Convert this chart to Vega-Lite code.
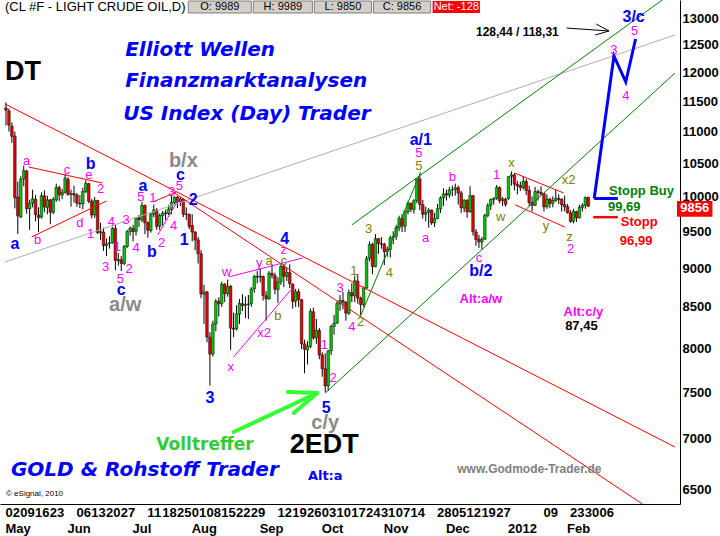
{
"$schema":"https://vega.github.io/schema/vega-lite/v6.json",
"width":680,"height":504,
"autosize":{"type":"none"},
"padding":{"left":0,"top":0,"right":40,"bottom":32},
"background":"white",
"config":{"view":{"stroke":null},
"axisY":{"labelFont":"Liberation Sans","labelFontWeight":"bold","labelFontSize":13,"labelColor":"black","labelPadding":2,"labelAlign":"left","labelBaseline":"middle","labelOverlap":false,"labelFlush":false,"labelBound":false,"ticks":false,"grid":false,"domain":true,"domainColor":"black","domainWidth":1}},
"datasets":{
"candles":[
{"i":0,"o":11390,"h":11483,"l":11100,"c":11352},{"i":1,"o":11340,"h":11380,"l":11000,"c":11105},{"i":2,"o":11090,"h":11150,"l":10820,"c":10924},{"i":3,"o":10930,"h":11000,"l":9825,"c":9980},{"i":4,"o":9990,"h":10220,"l":9463,"c":9718},{"i":5,"o":9700,"h":10300,"l":9690,"c":10255},{"i":6,"o":10260,"h":10460,"l":10150,"c":10388},{"i":7,"o":10380,"h":10400,"l":9750,"c":9821},{"i":8,"o":9820,"h":9950,"l":9520,"c":9897},{"i":9,"o":9900,"h":10100,"l":9840,"c":9965},
{"i":10,"o":9960,"h":10020,"l":9640,"c":9737},{"i":11,"o":9730,"h":9840,"l":9490,"c":9691},{"i":12,"o":9700,"h":10060,"l":9680,"c":10010},{"i":13,"o":10010,"h":10090,"l":9770,"c":9844},{"i":14,"o":9840,"h":10010,"l":9740,"c":9949},{"i":15,"o":9950,"h":9960,"l":9600,"c":9770},{"i":16,"o":9770,"h":9990,"l":9740,"c":9959},{"i":17,"o":9950,"h":10190,"l":9920,"c":10132},{"i":18,"o":10130,"h":10160,"l":9930,"c":10023},{"i":19,"o":10020,"h":10110,"l":9960,"c":10059},
{"i":20,"o":10060,"h":10340,"l":10040,"c":10270},{"i":21,"o":10250,"h":10290,"l":10010,"c":10029},{"i":22,"o":10030,"h":10100,"l":9850,"c":10040},{"i":23,"o":10040,"h":10160,"l":9910,"c":10022},{"i":24,"o":10020,"h":10050,"l":9850,"c":9901},{"i":25,"o":9900,"h":10020,"l":9830,"c":9894},{"i":26,"o":9890,"h":10130,"l":9810,"c":10074},{"i":27,"o":10070,"h":10240,"l":10050,"c":10193},{"i":28,"o":10190,"h":10200,"l":9900,"c":9929},{"i":29,"o":9930,"h":9960,"l":9680,"c":9730},
{"i":30,"o":9730,"h":9990,"l":9690,"c":9937},{"i":31,"o":9940,"h":9950,"l":9460,"c":9481},{"i":32,"o":9480,"h":9620,"l":9380,"c":9495},{"i":33,"o":9490,"h":9550,"l":9230,"c":9301},{"i":34,"o":9300,"h":9400,"l":9160,"c":9326},{"i":35,"o":9330,"h":9430,"l":9260,"c":9340},{"i":36,"o":9340,"h":9560,"l":9330,"c":9541},{"i":37,"o":9540,"h":9590,"l":8970,"c":9102},{"i":38,"o":9100,"h":9200,"l":9030,"c":9116},{"i":39,"o":9110,"h":9160,"l":8960,"c":9061},
{"i":40,"o":9060,"h":9310,"l":9040,"c":9289},{"i":41,"o":9290,"h":9520,"l":9270,"c":9496},{"i":42,"o":9500,"h":9570,"l":9440,"c":9542},{"i":43,"o":9540,"h":9590,"l":9360,"c":9494},{"i":44,"o":9500,"h":9700,"l":9440,"c":9689},{"i":45,"o":9690,"h":9730,"l":9560,"c":9665},{"i":46,"o":9660,"h":9920,"l":9630,"c":9867},{"i":47,"o":9870,"h":9880,"l":9460,"c":9620},{"i":48,"o":9620,"h":9640,"l":9410,"c":9515},{"i":49,"o":9510,"h":9770,"l":9480,"c":9743},
{"i":50,"o":9740,"h":9880,"l":9700,"c":9805},{"i":51,"o":9800,"h":9830,"l":9520,"c":9569},{"i":52,"o":9570,"h":9750,"l":9520,"c":9724},{"i":53,"o":9720,"h":9790,"l":9580,"c":9759},{"i":54,"o":9760,"h":9810,"l":9660,"c":9750},{"i":55,"o":9750,"h":9870,"l":9730,"c":9814},{"i":56,"o":9810,"h":10020,"l":9740,"c":9913},{"i":57,"o":9910,"h":10000,"l":9880,"c":9987},{"i":58,"o":9990,"h":10010,"l":9830,"c":9920},{"i":59,"o":9920,"h":9990,"l":9860,"c":9959},
{"i":60,"o":9960,"h":9970,"l":9700,"c":9740},{"i":61,"o":9740,"h":9840,"l":9660,"c":9744},{"i":62,"o":9740,"h":9750,"l":9530,"c":9570},{"i":63,"o":9580,"h":9740,"l":9360,"c":9489},{"i":64,"o":9490,"h":9500,"l":9240,"c":9379},{"i":65,"o":9380,"h":9420,"l":9060,"c":9193},{"i":66,"o":9190,"h":9240,"l":8610,"c":8663},{"i":67,"o":8660,"h":8780,"l":8290,"c":8688},{"i":68,"o":8690,"h":8700,"l":8070,"c":8131},{"i":69,"o":8130,"h":8190,"l":7571,"c":7930},
{"i":70,"o":7930,"h":8330,"l":7900,"c":8289},{"i":71,"o":8290,"h":8600,"l":8200,"c":8572},{"i":72,"o":8570,"h":8620,"l":8380,"c":8538},{"i":73,"o":8540,"h":8820,"l":8500,"c":8788},{"i":74,"o":8790,"h":8800,"l":8560,"c":8665},{"i":75,"o":8670,"h":8850,"l":8630,"c":8758},{"i":76,"o":8760,"h":8780,"l":7980,"c":8238},{"i":77,"o":8240,"h":8430,"l":8130,"c":8226},{"i":78,"o":8230,"h":8520,"l":8210,"c":8412},{"i":79,"o":8410,"h":8600,"l":8290,"c":8544},
{"i":80,"o":8540,"h":8660,"l":8450,"c":8516},{"i":81,"o":8520,"h":8630,"l":8360,"c":8530},{"i":82,"o":8530,"h":8650,"l":8350,"c":8537},{"i":83,"o":8540,"h":8750,"l":8500,"c":8727},{"i":84,"o":8730,"h":8910,"l":8680,"c":8890},{"i":85,"o":8890,"h":8960,"l":8800,"c":8881},{"i":86,"o":8880,"h":8990,"l":8810,"c":8893},{"i":87,"o":8890,"h":8900,"l":8580,"c":8645},{"i":88,"o":8640,"h":8700,"l":8330,"c":8602},{"i":89,"o":8600,"h":8960,"l":8590,"c":8934},
{"i":90,"o":8930,"h":9050,"l":8860,"c":8905},{"i":91,"o":8900,"h":8940,"l":8660,"c":8724},{"i":92,"o":8720,"h":8880,"l":8550,"c":8819},{"i":93,"o":8820,"h":9050,"l":8780,"c":9021},{"i":94,"o":9020,"h":9050,"l":8750,"c":8891},{"i":95,"o":8890,"h":9000,"l":8830,"c":8940},{"i":96,"o":8940,"h":9050,"l":8740,"c":8796},{"i":97,"o":8790,"h":8800,"l":8480,"c":8570},{"i":98,"o":8570,"h":8730,"l":8500,"c":8692},{"i":99,"o":8690,"h":8730,"l":8500,"c":8592},
{"i":100,"o":8590,"h":8600,"l":7990,"c":8051},{"i":101,"o":8050,"h":8100,"l":7710,"c":7985},{"i":102,"o":7980,"h":8080,"l":7810,"c":8024},{"i":103,"o":8020,"h":8480,"l":8000,"c":8445},{"i":104,"o":8440,"h":8490,"l":8100,"c":8121},{"i":105,"o":8120,"h":8350,"l":8050,"c":8214},{"i":106,"o":8210,"h":8240,"l":7870,"c":7920},{"i":107,"o":7920,"h":7950,"l":7670,"c":7761},{"i":108,"o":7760,"h":7940,"l":7495,"c":7567},{"i":109,"o":7570,"h":7980,"l":7510,"c":7968},
{"i":110,"o":7970,"h":8280,"l":7920,"c":8259},{"i":111,"o":8260,"h":8400,"l":8160,"c":8298},{"i":112,"o":8300,"h":8570,"l":8290,"c":8541},{"i":113,"o":8540,"h":8650,"l":8450,"c":8581},{"i":114,"o":8580,"h":8690,"l":8470,"c":8557},{"i":115,"o":8560,"h":8570,"l":8330,"c":8423},{"i":116,"o":8420,"h":8720,"l":8400,"c":8680},{"i":117,"o":8680,"h":8800,"l":8560,"c":8638},{"i":118,"o":8640,"h":8900,"l":8560,"c":8834},{"i":119,"o":8830,"h":8920,"l":8540,"c":8611},
{"i":120,"o":8610,"h":8630,"l":8400,"c":8530},{"i":121,"o":8530,"h":8760,"l":8500,"c":8740},{"i":122,"o":8740,"h":9160,"l":8730,"c":9127},{"i":123,"o":9130,"h":9360,"l":9090,"c":9317},{"i":124,"o":9320,"h":9340,"l":8920,"c":9020},{"i":125,"o":9020,"h":9460,"l":9010,"c":9396},{"i":126,"o":9400,"h":9400,"l":9190,"c":9332},{"i":127,"o":9330,"h":9420,"l":9260,"c":9319},{"i":128,"o":9320,"h":9340,"l":9040,"c":9219},{"i":129,"o":9220,"h":9290,"l":9150,"c":9251},
{"i":130,"o":9250,"h":9440,"l":9140,"c":9407},{"i":131,"o":9410,"h":9500,"l":9320,"c":9426},{"i":132,"o":9430,"h":9590,"l":9380,"c":9552},{"i":133,"o":9550,"h":9720,"l":9500,"c":9680},{"i":134,"o":9680,"h":9740,"l":9490,"c":9574},{"i":135,"o":9570,"h":9800,"l":9490,"c":9778},{"i":136,"o":9780,"h":9930,"l":9740,"c":9899},{"i":137,"o":9900,"h":9910,"l":9770,"c":9814},{"i":138,"o":9810,"h":9960,"l":9750,"c":9937},{"i":139,"o":9940,"h":10270,"l":9900,"c":10259},
{"i":140,"o":10260,"h":10337,"l":9800,"c":9882},{"i":141,"o":9880,"h":9950,"l":9680,"c":9741},{"i":142,"o":9740,"h":9850,"l":9640,"c":9767},{"i":143,"o":9770,"h":9830,"l":9550,"c":9801},{"i":144,"o":9800,"h":9810,"l":9590,"c":9617},{"i":145,"o":9620,"h":9760,"l":9560,"c":9677},{"i":146,"o":9680,"h":9890,"l":9670,"c":9821},{"i":147,"o":9820,"h":10000,"l":9760,"c":9979},{"i":148,"o":9980,"h":10120,"l":9860,"c":10036},{"i":149,"o":10040,"h":10100,"l":9940,"c":10020},
{"i":150,"o":10020,"h":10140,"l":9980,"c":10096},{"i":151,"o":10100,"h":10160,"l":10000,"c":10099},{"i":152,"o":10100,"h":10190,"l":10010,"c":10128},{"i":153,"o":10130,"h":10160,"l":9880,"c":10049},{"i":154,"o":10050,"h":10080,"l":9760,"c":9834},{"i":155,"o":9830,"h":9960,"l":9770,"c":9941},{"i":156,"o":9940,"h":9960,"l":9690,"c":9777},{"i":157,"o":9780,"h":10150,"l":9760,"c":10014},{"i":158,"o":10010,"h":10020,"l":9440,"c":9495},{"i":159,"o":9490,"h":9530,"l":9300,"c":9387},
{"i":160,"o":9390,"h":9450,"l":9270,"c":9353},{"i":161,"o":9350,"h":9420,"l":9250,"c":9388},{"i":162,"o":9390,"h":9750,"l":9380,"c":9722},{"i":163,"o":9720,"h":9900,"l":9700,"c":9867},{"i":164,"o":9870,"h":9970,"l":9800,"c":9953},{"i":165,"o":9950,"h":9990,"l":9880,"c":9968},{"i":166,"o":9970,"h":10170,"l":9950,"c":10134},{"i":167,"o":10130,"h":10150,"l":9900,"c":9936},{"i":168,"o":9940,"h":9990,"l":9860,"c":9965},{"i":169,"o":9960,"h":9980,"l":9850,"c":9883},
{"i":170,"o":9970,"h":10300,"l":9950,"c":10296},{"i":171,"o":10300,"h":10374,"l":10160,"c":10322},{"i":172,"o":10320,"h":10350,"l":10090,"c":10181},{"i":173,"o":10180,"h":10230,"l":10030,"c":10156},{"i":174,"o":10160,"h":10220,"l":10080,"c":10131},{"i":175,"o":10130,"h":10300,"l":10100,"c":10224},{"i":176,"o":10220,"h":10260,"l":10020,"c":10087},{"i":177,"o":10090,"h":10160,"l":9860,"c":9910},{"i":178,"o":9910,"h":10000,"l":9780,"c":9870},{"i":179,"o":9870,"h":10140,"l":9860,"c":10071},
{"i":180,"o":10070,"h":10100,"l":9940,"c":10059},{"i":181,"o":10060,"h":10150,"l":10010,"c":10039},{"i":182,"o":10040,"h":10050,"l":9780,"c":9846},{"i":183,"o":9850,"h":10030,"l":9820,"c":9958},{"i":184,"o":9960,"h":9980,"l":9830,"c":9895},{"i":185,"o":9900,"h":10000,"l":9840,"c":9940},{"i":186,"o":9940,"h":10100,"l":9920,"c":9970},{"i":187,"o":9970,"h":10030,"l":9890,"c":9956},{"i":188,"o":9960,"h":9970,"l":9780,"c":9878},{"i":189,"o":9880,"h":10010,"l":9780,"c":9848},
{"i":190,"o":9850,"h":9890,"l":9750,"c":9761},{"i":191,"o":9760,"h":9800,"l":9620,"c":9636},{"i":192,"o":9640,"h":9820,"l":9610,"c":9784},{"i":193,"o":9780,"h":9790,"l":9630,"c":9691},{"i":194,"o":9690,"h":9880,"l":9680,"c":9841},{"i":195,"o":9840,"h":9900,"l":9780,"c":9870},{"i":196,"o":9870,"h":10000,"l":9820,"c":9984},{"i":197,"o":9989,"h":9989,"l":9850,"c":9856}
],
"lines":[
{"id":"r1","g":"red","k":0,"i":-0.333,"v":11456},{"id":"r1","g":"red","k":1,"i":226.333,"v":6917},
{"id":"r2","g":"red","k":0,"i":57,"v":10050},{"id":"r2","g":"red","k":1,"i":215.33,"v":6361},
{"id":"r3","g":"red","k":0,"i":7.67,"v":10442},{"id":"r3","g":"red","k":1,"i":32.67,"v":10198},
{"id":"r4","g":"red","k":0,"i":8.67,"v":9421},{"id":"r4","g":"red","k":1,"i":34,"v":9933},
{"id":"r5","g":"red","k":0,"i":49.67,"v":9918},{"id":"r5","g":"red","k":1,"i":57.67,"v":10065},
{"id":"r6","g":"red","k":0,"i":172,"v":10351},{"id":"r6","g":"red","k":1,"i":188.67,"v":10050},
{"id":"r7","g":"red","k":0,"i":172.33,"v":9875},{"id":"r7","g":"red","k":1,"i":189,"v":9560},
{"id":"st","g":"redT","k":0,"i":198.67,"v":9699},{"id":"st","g":"redT","k":1,"i":207,"v":9699},
{"id":"g1","g":"green","k":0,"i":117,"v":9589},{"id":"g1","g":"green","k":1,"i":222,"v":13349},
{"id":"g2","g":"green","k":0,"i":108,"v":7489},{"id":"g2","g":"green","k":1,"i":226.333,"v":11990},
{"id":"g3","g":"green","k":0,"i":119.67,"v":8363},{"id":"g3","g":"green","k":1,"i":140.33,"v":10365},
{"id":"gy","g":"gray","k":0,"i":-0.333,"v":9081},{"id":"gy","g":"gray","k":1,"i":226.333,"v":12679},
{"id":"p1","g":"pink","k":0,"i":75.33,"v":8883},{"id":"p1","g":"pink","k":1,"i":100.33,"v":9134},
{"id":"p2","g":"pink","k":0,"i":77,"v":7897},{"id":"p2","g":"pink","k":1,"i":96.33,"v":8714},
{"id":"p3","g":"pink","k":0,"i":51.33,"v":9449},{"id":"p3","g":"pink","k":1,"i":58.67,"v":9978},
{"id":"bp","g":"blue","k":0,"i":199,"v":9969},{"id":"bp","g":"blue","k":1,"i":205.67,"v":12294},{"id":"bp","g":"blue","k":2,"i":209.67,"v":11833},{"id":"bp","g":"blue","k":3,"i":213,"v":12605},
{"id":"sb","g":"blue","k":0,"i":199,"v":9969},{"id":"sb","g":"blue","k":1,"i":207,"v":9969},
{"id":"a1","g":"black","k":0,"i":189.67,"v":12810},{"id":"a1","g":"black","k":1,"i":204,"v":12754},
{"id":"a2","g":"black","k":0,"i":199.67,"v":12886},{"id":"a2","g":"black","k":1,"i":204,"v":12754},{"id":"a2","g":"black","k":2,"i":199.33,"v":12679},
{"id":"l1","g":"lime","k":0,"i":77,"v":7072},{"id":"l1","g":"lime","k":1,"i":105.33,"v":7489},
{"id":"l2","g":"lime","k":0,"i":95.33,"v":7500},{"id":"l2","g":"lime","k":1,"i":105.33,"v":7489},{"id":"l2","g":"lime","k":2,"i":97.33,"v":7272}
],
"labels":[
{"g":"wb","t":"a","i":3,"v":9324},{"g":"wb","t":"b","i":28.67,"v":10488},{"g":"wb","t":"a","i":46.33,"v":10154},{"g":"wb","t":"c","i":59,"v":10320},{"g":"wb","t":"b","i":49.33,"v":9215},{"g":"wb","t":"1","i":60.33,"v":9379},{"g":"wb","t":"2","i":63.33,"v":9947},{"g":"wb","t":"c","i":39,"v":8714},{"g":"wb","t":"3","i":69,"v":7434},{"g":"wb","t":"4","i":94.33,"v":9393},{"g":"wb","t":"5","i":108.33,"v":7326},{"g":"wb","t":"a/1","i":140.33,"v":10865},{"g":"wb","t":"b/2","i":160.67,"v":8961},{"g":"wb","t":"3/c","i":212.33,"v":13019},
{"g":"gr","t":"b/x","i":60,"v":10535},{"g":"gr","t":"a/w","i":40.33,"v":8524},{"g":"gr","t":"c/y","i":108,"v":7166},
{"g":"mg","t":"a","i":7,"v":10535},{"g":"mg","t":"b","i":10.67,"v":9379},{"g":"mg","t":"c","i":20.67,"v":10396},{"g":"mg","t":"d","i":25,"v":9617},{"g":"mg","t":"e","i":28,"v":10320},{"g":"mg","t":"2","i":32,"v":10110},{"g":"mg","t":"1","i":28.67,"v":9462},{"g":"mg","t":"4","i":35.67,"v":9631},{"g":"mg","t":"3","i":33.67,"v":9014},{"g":"mg","t":"1","i":37.67,"v":9283},{"g":"mg","t":"5","i":38.67,"v":8856},{"g":"mg","t":"2","i":41.67,"v":8988},{"g":"mg","t":"3","i":40.67,"v":9659},{"g":"mg","t":"4","i":44,"v":9270},{"g":"mg","t":"5","i":45.67,"v":9991},{"g":"mg","t":"1","i":49.67,"v":9977},{"g":"mg","t":"2","i":52.67,"v":9338},{"g":"mg","t":"4","i":56.67,"v":9574},{"g":"mg","t":"3","i":56,"v":10065},{"g":"mg","t":"5","i":58.67,"v":10154},
{"g":"mg","t":"w","i":74.67,"v":8948},{"g":"mg","t":"y","i":85.67,"v":9067},{"g":"mg","t":"z","i":94,"v":9242},{"g":"mg","t":"x","i":76,"v":7781},{"g":"mg","t":"x2","i":87.33,"v":8180},{"g":"mg","t":"1","i":107.67,"v":8037},{"g":"mg","t":"2","i":110.67,"v":7656},{"g":"mg","t":"3","i":113,"v":8740},{"g":"mg","t":"4","i":117,"v":8253},{"g":"mg","t":"5","i":139.67,"v":10659},{"g":"mg","t":"a","i":142,"v":9407},{"g":"mg","t":"b","i":151,"v":10290},{"g":"mg","t":"c","i":160,"v":9134},{"g":"mg","t":"1","i":166,"v":10320},{"g":"mg","t":"2","i":191,"v":9256},{"g":"mg","t":"3","i":205.67,"v":12402},{"g":"mg","t":"4","i":209.67,"v":11591},{"g":"mg","t":"5","i":212.67,"v":12754},
{"g":"ol","t":"a","i":89,"v":9094},{"g":"ol","t":"c","i":94,"v":9094},{"g":"ol","t":"b","i":92,"v":8387},{"g":"ol","t":"1","i":117.67,"v":8961},{"g":"ol","t":"2","i":120,"v":8313},{"g":"ol","t":"3","i":122.67,"v":9532},{"g":"ol","t":"4","i":129.67,"v":8935},{"g":"ol","t":"5","i":139.67,"v":10457},{"g":"ol","t":"x","i":171,"v":10504},{"g":"ol","t":"w","i":167.33,"v":9702},{"g":"ol","t":"y","i":182.67,"v":9574},{"g":"ol","t":"x2","i":190.33,"v":10244},{"g":"ol","t":"z","i":190.67,"v":9421}
],
"notes":[
{"g":"title","t":"Elliott Wellen","i":40.33,"v":12402},{"g":"title","t":"Finanzmarktanalysen","i":40.33,"v":11850},{"g":"title","t":"US Index (Day) Trader","i":39.67,"v":11288},{"g":"title","t":"GOLD & Rohstoff Trader","i":1.67,"v":6688},
{"g":"bigL","t":"DT","i":-0.333,"v":12008},{"g":"big","t":"2EDT","i":107.67,"v":6938},
{"g":"vt","t":"Volltreffer","i":67.33,"v":6938},{"g":"alta","t":"Alt:a","i":108,"v":6629},
{"g":"www","t":"www.Godmode-Trader.de","i":152.67,"v":6697},{"g":"esig","t":"© eSignal, 2010","i":0,"v":6456},
{"g":"sb","t":"Stopp Buy","i":204,"v":10080},{"g":"sb","t":"99,69","i":203.67,"v":9845},
{"g":"st","t":"Stopp","i":208,"v":9631},{"g":"st","t":"96,99","i":207.67,"v":9366},
{"g":"mgb","t":"Alt:c/y","i":195.33,"v":8437},{"g":"mgb","t":"Alt:a/w","i":160.67,"v":8599},
{"g":"blk","t":"87,45","i":194.67,"v":8265},{"g":"blk12","t":"128,44 / 118,31","i":173,"v":12735},
{"g":"hdr","t":"(CL #F - LIGHT CRUDE OIL,D)","i":-0.333,"v":13212},
{"g":"box","t":"O: 9989","i":72.33,"v":13212},{"g":"box","t":"H: 9989","i":93.67,"v":13212},{"g":"box","t":"L: 9850","i":114,"v":13212},{"g":"box","t":"C: 9856","i":134,"v":13212},
{"g":"boxw","t":"Net: -128","i":152.33,"v":13212},{"g":"tag","t":"9856","i":233,"v":9831}
],
"boxes":[
{"g":"gray","i":61.67,"i2":83,"v":13096,"v2":13329},{"g":"gray","i":83.67,"i2":103.67,"v":13096,"v2":13329},{"g":"gray","i":104.33,"i2":123.67,"v":13096,"v2":13329},{"g":"gray","i":124.33,"i2":143.67,"v":13096,"v2":13329},
{"g":"red","i":144.33,"i2":160.33,"v":13096,"v2":13329},{"g":"red","i":227,"i2":239,"v":9704,"v2":9933}
]
},
"encoding":{
"x":{"field":"i","type":"quantitative","scale":{"domain":[-0.3333,226.3333],"nice":false,"zero":false},
"axis":{"title":null,"orient":"bottom",
"values":[0,5,10,15,21,24,29,34,39,43,48,53,58,63,68,73,78,83,86,92,97,102,107,112,117,122,127,128,132,137,146,149,151,156,161,166,170,182,190,191,196,201],
"labelExpr":"[indexof([0,5,10,15,24,29,34,39,48,53,58,63,68,73,78,83,92,97,102,107,112,117,122,127,132,137,146,151,156,161,166,182,191,196,201],datum.value)>=0 ? ['02','09','16','23','06','13','20','27','11','18','25','01','08','15','22','29','12','19','26','03','10','17','24','31','07','14','28','05','12','19','27','09','23','30','06'][indexof([0,5,10,15,24,29,34,39,48,53,58,63,68,73,78,83,92,97,102,107,112,117,122,127,132,137,146,151,156,161,166,182,191,196,201],datum.value)] : '', indexof([0,21,43,63,86,107,128,149,170,190],datum.value)>=0 ? ['May','Jun','Jul','Aug','Sep','Oct','Nov','Dec','2012','Feb'][indexof([0,21,43,63,86,107,128,149,170,190],datum.value)] : '']",
"labelAlign":"left","labelBaseline":"top","labelPadding":2,"labelLineHeight":16,"labelOffset":-1,
"labelFont":"Liberation Sans","labelFontWeight":"bold","labelFontSize":13,"labelColor":"black",
"labelOverlap":false,"labelFlush":false,"labelBound":false,
"ticks":false,"grid":false,"domain":true,"domainColor":"black","domainWidth":1}}
},
"layer":[
{"data":{"name":"candles"},"mark":{"type":"rule","stroke":"black","strokeWidth":1},
"encoding":{"y":{"field":"l","type":"quantitative","scale":{"type":"log","domain":[6361,13349],"nice":false,"zero":false},"axis":{"title":null,"orient":"right","values":[6500,7000,7500,8000,8500,9000,9500,10000,10500,11000,11500,12000,12500,13000],"format":"d"}},
"y2":{"field":"h"}}},
{"data":{"name":"candles"},"mark":{"type":"bar","width":2.6,"stroke":"black","strokeWidth":0.5},
"encoding":{"y":{"field":"o","type":"quantitative","scale":{"type":"log","domain":[6361,13349],"nice":false,"zero":false},"axis":{"title":null,"orient":"right","values":[6500,7000,7500,8000,8500,9000,9500,10000,10500,11000,11500,12000,12500,13000],"format":"d"}},
"y2":{"field":"c"},
"fill":{"condition":{"test":"datum.c >= datum.o","value":"#00c800"},"value":"#e80000"}}},
{"data":{"name":"lines"},"transform":[{"filter":"datum.g=='gray'"}],"mark":{"type":"line","stroke":"#b4a8b8","strokeWidth":1},
"encoding":{"y":{"field":"v","type":"quantitative","scale":{"type":"log","domain":[6361,13349],"nice":false,"zero":false},"axis":{"title":null,"orient":"right","values":[6500,7000,7500,8000,8500,9000,9500,10000,10500,11000,11500,12000,12500,13000],"format":"d"}},"detail":{"field":"id"},"order":{"field":"k"}}},
{"data":{"name":"lines"},"transform":[{"filter":"datum.g=='red'"}],"mark":{"type":"line","stroke":"#ff0000","strokeWidth":1},
"encoding":{"y":{"field":"v","type":"quantitative","scale":{"type":"log","domain":[6361,13349],"nice":false,"zero":false},"axis":{"title":null,"orient":"right","values":[6500,7000,7500,8000,8500,9000,9500,10000,10500,11000,11500,12000,12500,13000],"format":"d"}},"detail":{"field":"id"},"order":{"field":"k"}}},
{"data":{"name":"lines"},"transform":[{"filter":"datum.g=='green'"}],"mark":{"type":"line","stroke":"#008000","strokeWidth":1},
"encoding":{"y":{"field":"v","type":"quantitative","scale":{"type":"log","domain":[6361,13349],"nice":false,"zero":false},"axis":{"title":null,"orient":"right","values":[6500,7000,7500,8000,8500,9000,9500,10000,10500,11000,11500,12000,12500,13000],"format":"d"}},"detail":{"field":"id"},"order":{"field":"k"}}},
{"data":{"name":"lines"},"transform":[{"filter":"datum.g=='pink'"}],"mark":{"type":"line","stroke":"#ff00ff","strokeWidth":1},
"encoding":{"y":{"field":"v","type":"quantitative","scale":{"type":"log","domain":[6361,13349],"nice":false,"zero":false},"axis":{"title":null,"orient":"right","values":[6500,7000,7500,8000,8500,9000,9500,10000,10500,11000,11500,12000,12500,13000],"format":"d"}},"detail":{"field":"id"},"order":{"field":"k"}}},
{"data":{"name":"lines"},"transform":[{"filter":"datum.g=='black'"}],"mark":{"type":"line","stroke":"#000000","strokeWidth":1},
"encoding":{"y":{"field":"v","type":"quantitative","scale":{"type":"log","domain":[6361,13349],"nice":false,"zero":false},"axis":{"title":null,"orient":"right","values":[6500,7000,7500,8000,8500,9000,9500,10000,10500,11000,11500,12000,12500,13000],"format":"d"}},"detail":{"field":"id"},"order":{"field":"k"}}},
{"data":{"name":"lines"},"transform":[{"filter":"datum.g=='redT'"}],"mark":{"type":"line","stroke":"#ff0000","strokeWidth":2.5},
"encoding":{"y":{"field":"v","type":"quantitative","scale":{"type":"log","domain":[6361,13349],"nice":false,"zero":false},"axis":{"title":null,"orient":"right","values":[6500,7000,7500,8000,8500,9000,9500,10000,10500,11000,11500,12000,12500,13000],"format":"d"}},"detail":{"field":"id"},"order":{"field":"k"}}},
{"data":{"name":"lines"},"transform":[{"filter":"datum.g=='blue'"}],"mark":{"type":"line","stroke":"#0000ff","strokeWidth":3},
"encoding":{"y":{"field":"v","type":"quantitative","scale":{"type":"log","domain":[6361,13349],"nice":false,"zero":false},"axis":{"title":null,"orient":"right","values":[6500,7000,7500,8000,8500,9000,9500,10000,10500,11000,11500,12000,12500,13000],"format":"d"}},"detail":{"field":"id"},"order":{"field":"k"}}},
{"data":{"name":"lines"},"transform":[{"filter":"datum.g=='lime'"}],"mark":{"type":"line","stroke":"#33ff33","strokeWidth":4,"strokeCap":"round","strokeJoin":"round"},
"encoding":{"y":{"field":"v","type":"quantitative","scale":{"type":"log","domain":[6361,13349],"nice":false,"zero":false},"axis":{"title":null,"orient":"right","values":[6500,7000,7500,8000,8500,9000,9500,10000,10500,11000,11500,12000,12500,13000],"format":"d"}},"detail":{"field":"id"},"order":{"field":"k"}}},
{"data":{"name":"boxes"},"transform":[{"filter":"datum.g=='gray'"}],"mark":{"type":"rect","fill":"#d4d0c8","stroke":"#808080","strokeWidth":1},
"encoding":{"x2":{"field":"i2"},"y":{"field":"v","type":"quantitative","scale":{"type":"log","domain":[6361,13349],"nice":false,"zero":false},"axis":{"title":null,"orient":"right","values":[6500,7000,7500,8000,8500,9000,9500,10000,10500,11000,11500,12000,12500,13000],"format":"d"}},"y2":{"field":"v2"}}},
{"data":{"name":"boxes"},"transform":[{"filter":"datum.g=='red'"}],"mark":{"type":"rect","fill":"#ff0000"},
"encoding":{"x2":{"field":"i2"},"y":{"field":"v","type":"quantitative","scale":{"type":"log","domain":[6361,13349],"nice":false,"zero":false},"axis":{"title":null,"orient":"right","values":[6500,7000,7500,8000,8500,9000,9500,10000,10500,11000,11500,12000,12500,13000],"format":"d"}},"y2":{"field":"v2"}}},
{"data":{"name":"labels"},"transform":[{"filter":"datum.g=='wb'"}],"mark":{"type":"text","font":"Liberation Sans","fontWeight":"bold","fontSize":16,"fill":"#0000ff","align":"center","baseline":"middle"},
"encoding":{"y":{"field":"v","type":"quantitative","scale":{"type":"log","domain":[6361,13349],"nice":false,"zero":false},"axis":{"title":null,"orient":"right","values":[6500,7000,7500,8000,8500,9000,9500,10000,10500,11000,11500,12000,12500,13000],"format":"d"}},"text":{"field":"t"}}},
{"data":{"name":"labels"},"transform":[{"filter":"datum.g=='gr'"}],"mark":{"type":"text","font":"Liberation Sans","fontWeight":"bold","fontSize":20,"fill":"#8a8a8a","align":"center","baseline":"middle"},
"encoding":{"y":{"field":"v","type":"quantitative","scale":{"type":"log","domain":[6361,13349],"nice":false,"zero":false},"axis":{"title":null,"orient":"right","values":[6500,7000,7500,8000,8500,9000,9500,10000,10500,11000,11500,12000,12500,13000],"format":"d"}},"text":{"field":"t"}}},
{"data":{"name":"labels"},"transform":[{"filter":"datum.g=='mg'"}],"mark":{"type":"text","font":"Liberation Sans","fontSize":13,"fill":"#ff00ff","align":"center","baseline":"middle"},
"encoding":{"y":{"field":"v","type":"quantitative","scale":{"type":"log","domain":[6361,13349],"nice":false,"zero":false},"axis":{"title":null,"orient":"right","values":[6500,7000,7500,8000,8500,9000,9500,10000,10500,11000,11500,12000,12500,13000],"format":"d"}},"text":{"field":"t"}}},
{"data":{"name":"labels"},"transform":[{"filter":"datum.g=='ol'"}],"mark":{"type":"text","font":"Liberation Sans","fontSize":13,"fill":"#808000","align":"center","baseline":"middle"},
"encoding":{"y":{"field":"v","type":"quantitative","scale":{"type":"log","domain":[6361,13349],"nice":false,"zero":false},"axis":{"title":null,"orient":"right","values":[6500,7000,7500,8000,8500,9000,9500,10000,10500,11000,11500,12000,12500,13000],"format":"d"}},"text":{"field":"t"}}},
{"data":{"name":"notes"},"transform":[{"filter":"datum.g=='title'"}],"mark":{"type":"text","font":"DejaVu Sans","fontWeight":"bold","fontStyle":"italic","fontSize":20,"fill":"#0000ff","align":"left","baseline":"middle"},
"encoding":{"y":{"field":"v","type":"quantitative","scale":{"type":"log","domain":[6361,13349],"nice":false,"zero":false},"axis":{"title":null,"orient":"right","values":[6500,7000,7500,8000,8500,9000,9500,10000,10500,11000,11500,12000,12500,13000],"format":"d"}},"text":{"field":"t"}}},
{"data":{"name":"notes"},"transform":[{"filter":"datum.g=='bigL'"}],"mark":{"type":"text","font":"Liberation Sans","fontWeight":"bold","fontSize":27,"fill":"#000000","align":"left","baseline":"middle"},
"encoding":{"y":{"field":"v","type":"quantitative","scale":{"type":"log","domain":[6361,13349],"nice":false,"zero":false},"axis":{"title":null,"orient":"right","values":[6500,7000,7500,8000,8500,9000,9500,10000,10500,11000,11500,12000,12500,13000],"format":"d"}},"text":{"field":"t"}}},
{"data":{"name":"notes"},"transform":[{"filter":"datum.g=='big'"}],"mark":{"type":"text","font":"Liberation Sans","fontWeight":"bold","fontSize":27,"fill":"#000000","align":"center","baseline":"middle"},
"encoding":{"y":{"field":"v","type":"quantitative","scale":{"type":"log","domain":[6361,13349],"nice":false,"zero":false},"axis":{"title":null,"orient":"right","values":[6500,7000,7500,8000,8500,9000,9500,10000,10500,11000,11500,12000,12500,13000],"format":"d"}},"text":{"field":"t"}}},
{"data":{"name":"notes"},"transform":[{"filter":"datum.g=='vt'"}],"mark":{"type":"text","font":"DejaVu Sans","fontWeight":"bold","fontSize":17,"fill":"#33cc33","align":"center","baseline":"middle"},
"encoding":{"y":{"field":"v","type":"quantitative","scale":{"type":"log","domain":[6361,13349],"nice":false,"zero":false},"axis":{"title":null,"orient":"right","values":[6500,7000,7500,8000,8500,9000,9500,10000,10500,11000,11500,12000,12500,13000],"format":"d"}},"text":{"field":"t"}}},
{"data":{"name":"notes"},"transform":[{"filter":"datum.g=='alta'"}],"mark":{"type":"text","font":"DejaVu Sans","fontWeight":"bold","fontSize":13,"fill":"#0000ff","align":"center","baseline":"middle"},
"encoding":{"y":{"field":"v","type":"quantitative","scale":{"type":"log","domain":[6361,13349],"nice":false,"zero":false},"axis":{"title":null,"orient":"right","values":[6500,7000,7500,8000,8500,9000,9500,10000,10500,11000,11500,12000,12500,13000],"format":"d"}},"text":{"field":"t"}}},
{"data":{"name":"notes"},"transform":[{"filter":"datum.g=='www'"}],"mark":{"type":"text","font":"Liberation Sans","fontWeight":"bold","fontSize":12,"fill":"#808080","align":"left","baseline":"middle"},
"encoding":{"y":{"field":"v","type":"quantitative","scale":{"type":"log","domain":[6361,13349],"nice":false,"zero":false},"axis":{"title":null,"orient":"right","values":[6500,7000,7500,8000,8500,9000,9500,10000,10500,11000,11500,12000,12500,13000],"format":"d"}},"text":{"field":"t"}}},
{"data":{"name":"notes"},"transform":[{"filter":"datum.g=='esig'"}],"mark":{"type":"text","font":"Liberation Sans","fontSize":8,"fill":"#000000","align":"left","baseline":"middle"},
"encoding":{"y":{"field":"v","type":"quantitative","scale":{"type":"log","domain":[6361,13349],"nice":false,"zero":false},"axis":{"title":null,"orient":"right","values":[6500,7000,7500,8000,8500,9000,9500,10000,10500,11000,11500,12000,12500,13000],"format":"d"}},"text":{"field":"t"}}},
{"data":{"name":"notes"},"transform":[{"filter":"datum.g=='sb'"}],"mark":{"type":"text","font":"Liberation Sans","fontWeight":"bold","fontSize":13,"fill":"#008000","align":"left","baseline":"middle"},
"encoding":{"y":{"field":"v","type":"quantitative","scale":{"type":"log","domain":[6361,13349],"nice":false,"zero":false},"axis":{"title":null,"orient":"right","values":[6500,7000,7500,8000,8500,9000,9500,10000,10500,11000,11500,12000,12500,13000],"format":"d"}},"text":{"field":"t"}}},
{"data":{"name":"notes"},"transform":[{"filter":"datum.g=='st'"}],"mark":{"type":"text","font":"Liberation Sans","fontWeight":"bold","fontSize":13,"fill":"#ff0000","align":"left","baseline":"middle"},
"encoding":{"y":{"field":"v","type":"quantitative","scale":{"type":"log","domain":[6361,13349],"nice":false,"zero":false},"axis":{"title":null,"orient":"right","values":[6500,7000,7500,8000,8500,9000,9500,10000,10500,11000,11500,12000,12500,13000],"format":"d"}},"text":{"field":"t"}}},
{"data":{"name":"notes"},"transform":[{"filter":"datum.g=='mgb'"}],"mark":{"type":"text","font":"Liberation Sans","fontWeight":"bold","fontSize":13,"fill":"#ff00ff","align":"center","baseline":"middle"},
"encoding":{"y":{"field":"v","type":"quantitative","scale":{"type":"log","domain":[6361,13349],"nice":false,"zero":false},"axis":{"title":null,"orient":"right","values":[6500,7000,7500,8000,8500,9000,9500,10000,10500,11000,11500,12000,12500,13000],"format":"d"}},"text":{"field":"t"}}},
{"data":{"name":"notes"},"transform":[{"filter":"datum.g=='blk'"}],"mark":{"type":"text","font":"Liberation Sans","fontWeight":"bold","fontSize":13,"fill":"#000000","align":"center","baseline":"middle"},
"encoding":{"y":{"field":"v","type":"quantitative","scale":{"type":"log","domain":[6361,13349],"nice":false,"zero":false},"axis":{"title":null,"orient":"right","values":[6500,7000,7500,8000,8500,9000,9500,10000,10500,11000,11500,12000,12500,13000],"format":"d"}},"text":{"field":"t"}}},
{"data":{"name":"notes"},"transform":[{"filter":"datum.g=='blk12'"}],"mark":{"type":"text","font":"Liberation Sans","fontWeight":"bold","fontSize":12,"fill":"#000000","align":"center","baseline":"middle"},
"encoding":{"y":{"field":"v","type":"quantitative","scale":{"type":"log","domain":[6361,13349],"nice":false,"zero":false},"axis":{"title":null,"orient":"right","values":[6500,7000,7500,8000,8500,9000,9500,10000,10500,11000,11500,12000,12500,13000],"format":"d"}},"text":{"field":"t"}}},
{"data":{"name":"notes"},"transform":[{"filter":"datum.g=='hdr'"}],"mark":{"type":"text","font":"Liberation Sans","fontSize":13,"fill":"#000000","align":"left","baseline":"middle"},
"encoding":{"y":{"field":"v","type":"quantitative","scale":{"type":"log","domain":[6361,13349],"nice":false,"zero":false},"axis":{"title":null,"orient":"right","values":[6500,7000,7500,8000,8500,9000,9500,10000,10500,11000,11500,12000,12500,13000],"format":"d"}},"text":{"field":"t"}}},
{"data":{"name":"notes"},"transform":[{"filter":"datum.g=='box'"}],"mark":{"type":"text","font":"Liberation Sans","fontSize":11,"fill":"#000000","align":"center","baseline":"middle"},
"encoding":{"y":{"field":"v","type":"quantitative","scale":{"type":"log","domain":[6361,13349],"nice":false,"zero":false},"axis":{"title":null,"orient":"right","values":[6500,7000,7500,8000,8500,9000,9500,10000,10500,11000,11500,12000,12500,13000],"format":"d"}},"text":{"field":"t"}}},
{"data":{"name":"notes"},"transform":[{"filter":"datum.g=='boxw'"}],"mark":{"type":"text","font":"Liberation Sans","fontSize":11,"fill":"#ffffff","align":"center","baseline":"middle"},
"encoding":{"y":{"field":"v","type":"quantitative","scale":{"type":"log","domain":[6361,13349],"nice":false,"zero":false},"axis":{"title":null,"orient":"right","values":[6500,7000,7500,8000,8500,9000,9500,10000,10500,11000,11500,12000,12500,13000],"format":"d"}},"text":{"field":"t"}}},
{"data":{"name":"notes"},"transform":[{"filter":"datum.g=='tag'"}],"mark":{"type":"text","font":"Liberation Sans","fontWeight":"bold","fontSize":13,"fill":"#ffffff","align":"center","baseline":"middle"},
"encoding":{"y":{"field":"v","type":"quantitative","scale":{"type":"log","domain":[6361,13349],"nice":false,"zero":false},"axis":{"title":null,"orient":"right","values":[6500,7000,7500,8000,8500,9000,9500,10000,10500,11000,11500,12000,12500,13000],"format":"d"}},"text":{"field":"t"}}}
]
}
